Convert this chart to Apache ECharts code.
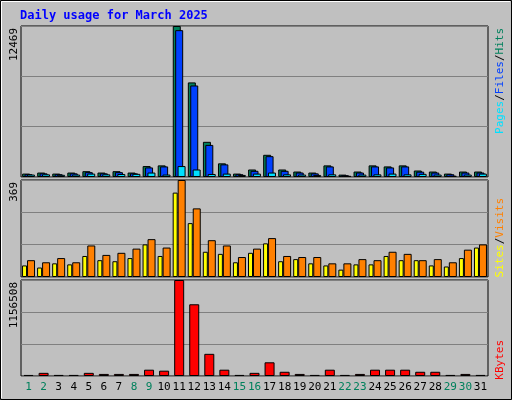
<!DOCTYPE html>
<html>
<head>
<meta charset="utf-8">
<script src="https://cdn.jsdelivr.net/npm/echarts@6/dist/echarts.min.js"></script>
<style>
  html, body { margin: 0; padding: 0; background: #c0c0c0; }
  #chart { width: 512px; height: 400px; }
</style>
</head>
<body>
<div id="chart"></div>
<script>
const days = ['1','2','3','4','5','6','7','8','9','10','11','12','13','14','15','16','17','18','19','20','21','22','23','24','25','26','27','28','29','30','31'];
const weekendDays = ['1','2','8','9','15','16','22','23','29','30'];

const hits = [282, 367, 282, 367, 480, 367, 480, 367, 902, 959, 12469, 7810, 2905, 1128, 282, 620, 1833, 620, 451, 367, 959, 197, 451, 959, 874, 959, 536, 451, 282, 451, 451];
const files = [230, 300, 230, 300, 400, 300, 400, 300, 790, 874, 12126, 7558, 2650, 1043, 230, 510, 1720, 510, 370, 300, 874, 150, 370, 874, 790, 874, 440, 370, 230, 370, 370];
const pages = [200, 220, 180, 200, 280, 220, 250, 260, 367, 200, 902, 620, 250, 280, 170, 280, 367, 220, 200, 170, 220, 100, 200, 220, 280, 220, 260, 200, 110, 200, 280];

const sites = [44, 36, 52, 48, 80, 64, 60, 72, 124, 80, 321, 205, 96, 88, 56, 92, 128, 60, 68, 52, 44, 28, 48, 48, 80, 64, 64, 44, 40, 72, 112];
const visits = [64, 56, 72, 56, 120, 84, 92, 108, 144, 112, 369, 261, 140, 120, 76, 108, 148, 80, 76, 76, 52, 52, 68, 64, 96, 88, 64, 68, 56, 104, 124];

const kbytes = [12700, 38000, 13000, 13000, 38000, 25000, 25000, 25000, 76000, 64000, 1156508, 864000, 267000, 76000, 13000, 38000, 165000, 51000, 25000, 13000, 76000, 13000, 25000, 76000, 76000, 76000, 51000, 51000, 13000, 25000, 13000];

const maxTop = 12469, maxMid = 369, maxBot = 1156508;

const chart = echarts.init(document.getElementById('chart'));

const panels = [
  { top: 26, height: 151, max: maxTop },
  { top: 180, height: 97, max: maxMid },
  { top: 280, height: 96, max: maxBot }
];

const grids = panels.map((p) => ({
  left: 21, right: 24, top: p.top, height: p.height,
  show: true, backgroundColor: '#c0c0c0', borderColor: '#000', borderWidth: 1
}));

const xAxes = panels.map((p, i) => ({
  type: 'category', gridIndex: i, data: days,
  axisLine: { show: false }, axisTick: { show: false },
  axisLabel: i === 2 ? {
    show: true, margin: 6, fontFamily: 'DejaVu Sans Mono', fontSize: 11, interval: 0,
    color: (v) => (weekendDays.includes(v) ? '#00805c' : '#000')
  } : { show: false }
}));

const yAxes = panels.map((p, i) => ({
  type: 'value', gridIndex: i, min: 0, max: p.max, interval: p.max / 3,
  axisLabel: { show: false }, axisLine: { show: false }, axisTick: { show: false },
  splitLine: { lineStyle: { color: '#808080', width: 1 } }
}));

const barStyle = (color) => ({ color: color, borderColor: '#000', borderWidth: 1 });

const series = [
  { type: 'bar', xAxisIndex: 0, yAxisIndex: 0, data: hits, barWidth: 8, barGap: '-70%', itemStyle: barStyle('#00805c'), silent: true },
  { type: 'bar', xAxisIndex: 0, yAxisIndex: 0, data: files, barWidth: 8, barGap: '-70%', itemStyle: barStyle('#0040ff'), silent: true },
  { type: 'bar', xAxisIndex: 0, yAxisIndex: 0, data: pages, barWidth: 8, barGap: '-70%', itemStyle: barStyle('#00e0ff'), silent: true },
  { type: 'bar', xAxisIndex: 1, yAxisIndex: 1, data: sites, barWidth: 5, barGap: '0%', itemStyle: barStyle('#ffff00'), silent: true },
  { type: 'bar', xAxisIndex: 1, yAxisIndex: 1, data: visits, barWidth: 8, barGap: '0%', itemStyle: barStyle('#ff8000'), silent: true },
  { type: 'bar', xAxisIndex: 2, yAxisIndex: 2, data: kbytes, barWidth: 10, itemStyle: barStyle('#ff0000'), silent: true }
];

const vText = (x, y, text, rich, align) => ({
  type: 'text', x: x, y: y, rotation: Math.PI / 2,
  style: { text: text, rich: rich, font: '11px "DejaVu Sans Mono"', fill: '#000', align: align, verticalAlign: 'middle' }
});

const graphic = [
  { type: 'rect', shape: { x: 0.5, y: 0.5, width: 511, height: 399 }, style: { fill: 'none', stroke: '#000' } },
  { type: 'polyline', shape: { points: [[1.5, 398], [1.5, 1.5], [510, 1.5]] }, style: { stroke: '#fff', fill: 'none' } },
  { type: 'text', x: 20, y: 10, style: { text: 'Daily usage for March 2025', font: 'bold 12px "DejaVu Sans Mono"', fill: '#0000ff' } },
  vText(14, 28, String(maxTop), null, 'right'),
  vText(14, 182, String(maxMid), null, 'right'),
  vText(14, 282, String(maxBot), null, 'right'),
  vText(500, 28, '{c|Pages}/{b|Files}/{g|Hits}', {
    c: { fill: '#00e0ff', font: '11px "DejaVu Sans Mono"' },
    b: { fill: '#0040ff', font: '11px "DejaVu Sans Mono"' },
    g: { fill: '#00805c', font: '11px "DejaVu Sans Mono"' }
  }, 'right'),
  vText(500, 198, '{y|Sites}/{o|Visits}', {
    y: { fill: '#ffff00', font: '11px "DejaVu Sans Mono"' },
    o: { fill: '#ff8000', font: '11px "DejaVu Sans Mono"' }
  }, 'right'),
  vText(500, 340, '{r|KBytes}', {
    r: { fill: '#ff0000', font: '11px "DejaVu Sans Mono"' }
  }, 'right')
];

chart.setOption({
  backgroundColor: '#c0c0c0',
  animation: false,
  grid: grids,
  xAxis: xAxes,
  yAxis: yAxes,
  series: series,
  graphic: graphic
});
</script>
</body>
</html>
